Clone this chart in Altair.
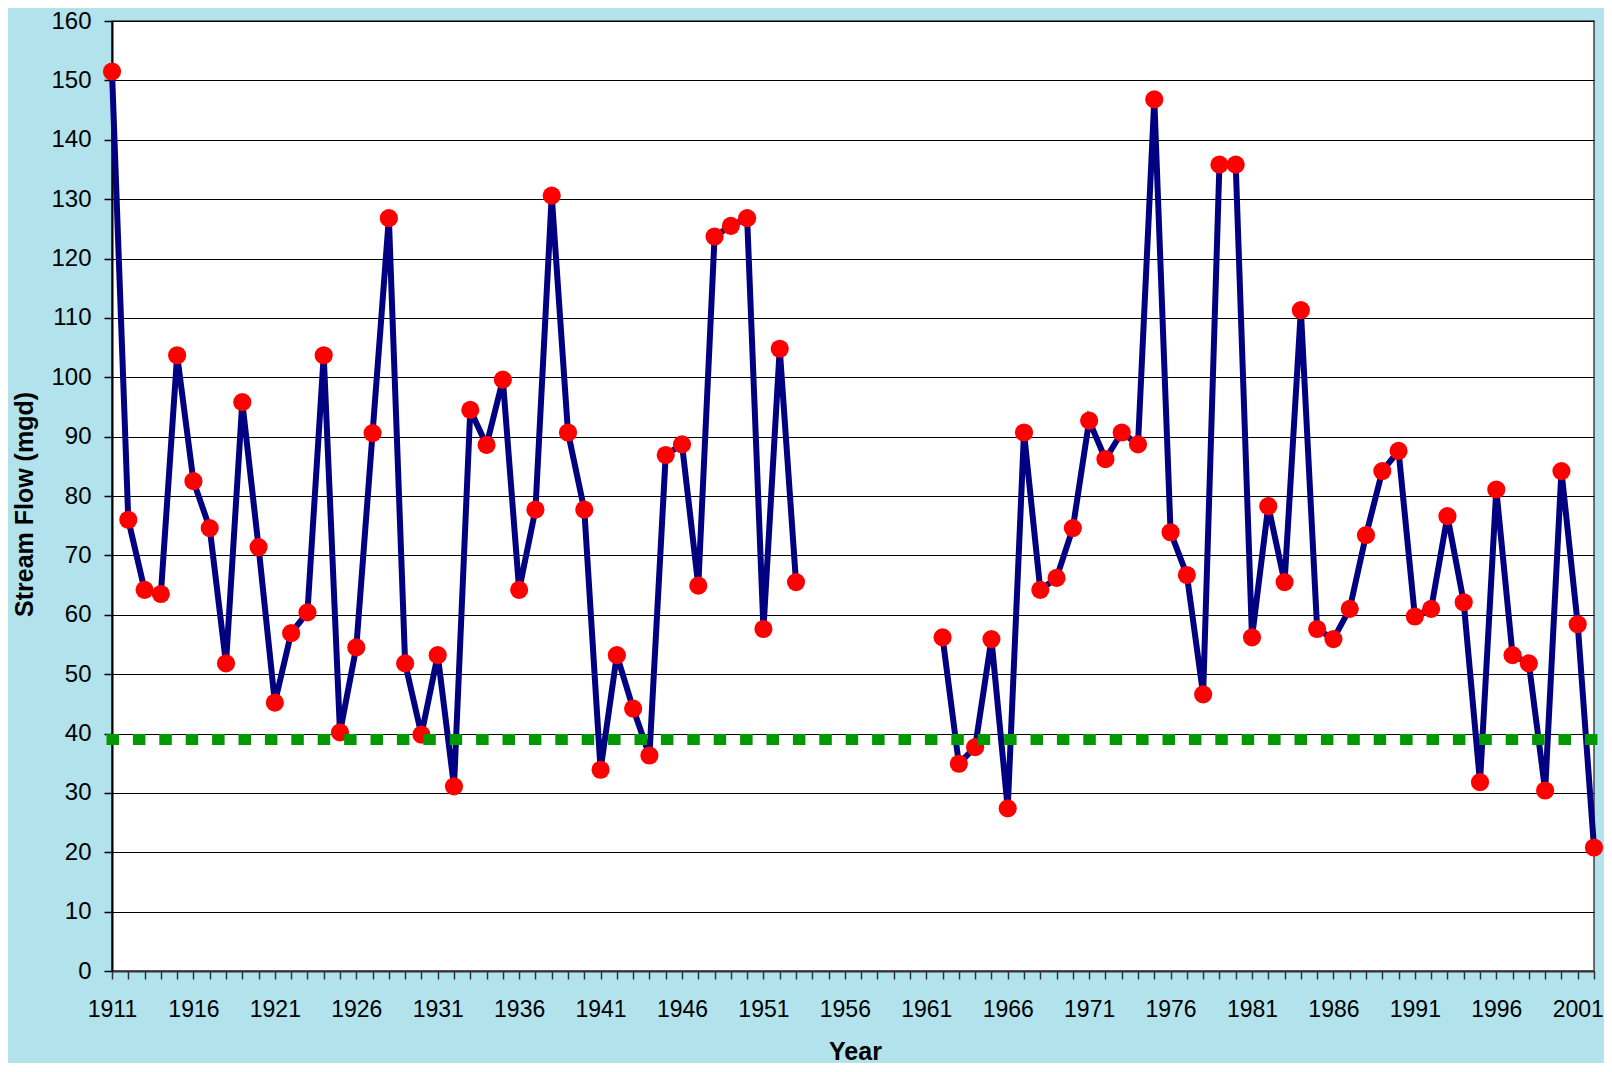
import altair as alt
import pandas as pd

years = list(range(1911, 2003))
flow = [
    151.5, 76.0, 64.2, 63.5, 103.7, 82.5, 74.6, 51.8, 95.8, 71.4,   # 1911-1920
    45.2, 56.9, 60.4, 103.7, 40.2, 54.5, 90.6, 126.8, 51.8, 39.8,   # 1921-1930
    53.2, 31.1, 94.5, 88.6, 99.6, 64.2, 77.7, 130.6, 90.7, 77.7,    # 1931-1940
    33.9, 53.2, 44.2, 36.3, 86.9, 88.7, 64.9, 123.7, 125.5, 126.8,  # 1941-1950
    57.6, 104.8, 65.5, None, None, None, None, None, None, None,    # 1951-1960
    None, 56.2, 34.9, 37.7, 55.9, 27.4, 90.7, 64.2, 66.2, 74.6,     # 1961-1970
    92.7, 86.2, 90.7, 88.7, 146.8, 73.9, 66.7, 46.6, 135.8, 135.8,  # 1971-1980
    56.2, 78.3, 65.5, 111.3, 57.6, 55.9, 61.0, 73.4, 84.2, 87.6,    # 1981-1990
    59.7, 61.0, 76.6, 62.1, 31.8, 81.1, 53.2, 51.8, 30.4, 84.2,     # 1991-2000
    58.4, 20.8,                                                     # 2001-2002
]
threshold = 39.0
y_ticks = list(range(0, 161, 10))

df = pd.DataFrame({"Year": years, "Flow": flow})
df = df.dropna().copy()
df["segment"] = (df["Year"] > 1955).astype(int)

thr_df = pd.DataFrame({"Year": [years[0], years[-1]], "Flow": [threshold, threshold]})

x_scale = alt.Scale(domain=[years[0], years[-1]], nice=False, zero=False)
y_scale = alt.Scale(domain=[0, 160], nice=False)

x_axis = alt.Axis(
    title="Year", values=years, tickCount=200, format="d",
    labelExpr="(datum.value - 1911) % 5 == 0 ? datum.label : ''",
    labelFlush=False, labelOverlap=False, labelBound=False,
    grid=False, tickSize=8, tickColor="#333333", tickWidth=1.5,
    domainColor="#333333", domainWidth=2,
    labelFont="Liberation Sans", labelFontSize=23, labelColor="#000000", labelPadding=19,
    titleFont="Liberation Sans", titleFontSize=25, titleFontWeight="bold", titleColor="#000000",
    titleX=743, titleY=88, titleBaseline="alphabetic", titleAlign="center",
)
y_axis = alt.Axis(
    title="Stream Flow (mgd)", values=y_ticks, tickCount=100, format="d",
    grid=True, gridColor="#000000", gridWidth=1, gridOpacity=1,
    tickSize=8, tickColor="#000000", tickWidth=1.5,
    domainColor="#000000", domainWidth=2,
    labelFont="Liberation Sans", labelFontSize=24, labelColor="#000000", labelPadding=13,
    titleFont="Liberation Sans", titleFontSize=25, titleFontWeight="bold", titleColor="#000000",
    titleX=-80, titleY=483, titleAngle=270, titleBaseline="alphabetic", titleAlign="center",
)

base = alt.Chart(df).encode(
    x=alt.X("Year:Q", scale=x_scale, axis=x_axis),
    y=alt.Y("Flow:Q", scale=y_scale, axis=y_axis),
)

line = base.mark_line(color="#000080", strokeWidth=6, strokeJoin="miter").encode(
    detail="segment:N"
)
points = base.mark_circle(color="#ff0000", opacity=1, size=330)

thr = alt.Chart(thr_df).mark_line(
    color="#009900", strokeWidth=11, strokeDash=[1.5, 24.9], strokeCap="square"
).encode(
    x=alt.X("Year:Q", scale=x_scale),
    y=alt.Y("Flow:Q", scale=y_scale),
)

chart = alt.layer(line, points, thr).properties(
    width=1482, height=950,
    autosize=alt.AutoSizeParams(type="none"),
    padding={"left": 104, "top": 13, "right": 10, "bottom": 92},
    background="#b2e2ec",
).configure_view(fill="white", stroke="#404040", strokeWidth=1.5)

chart.save("out.html", embed_options={"renderer": "svg", "actions": False})
